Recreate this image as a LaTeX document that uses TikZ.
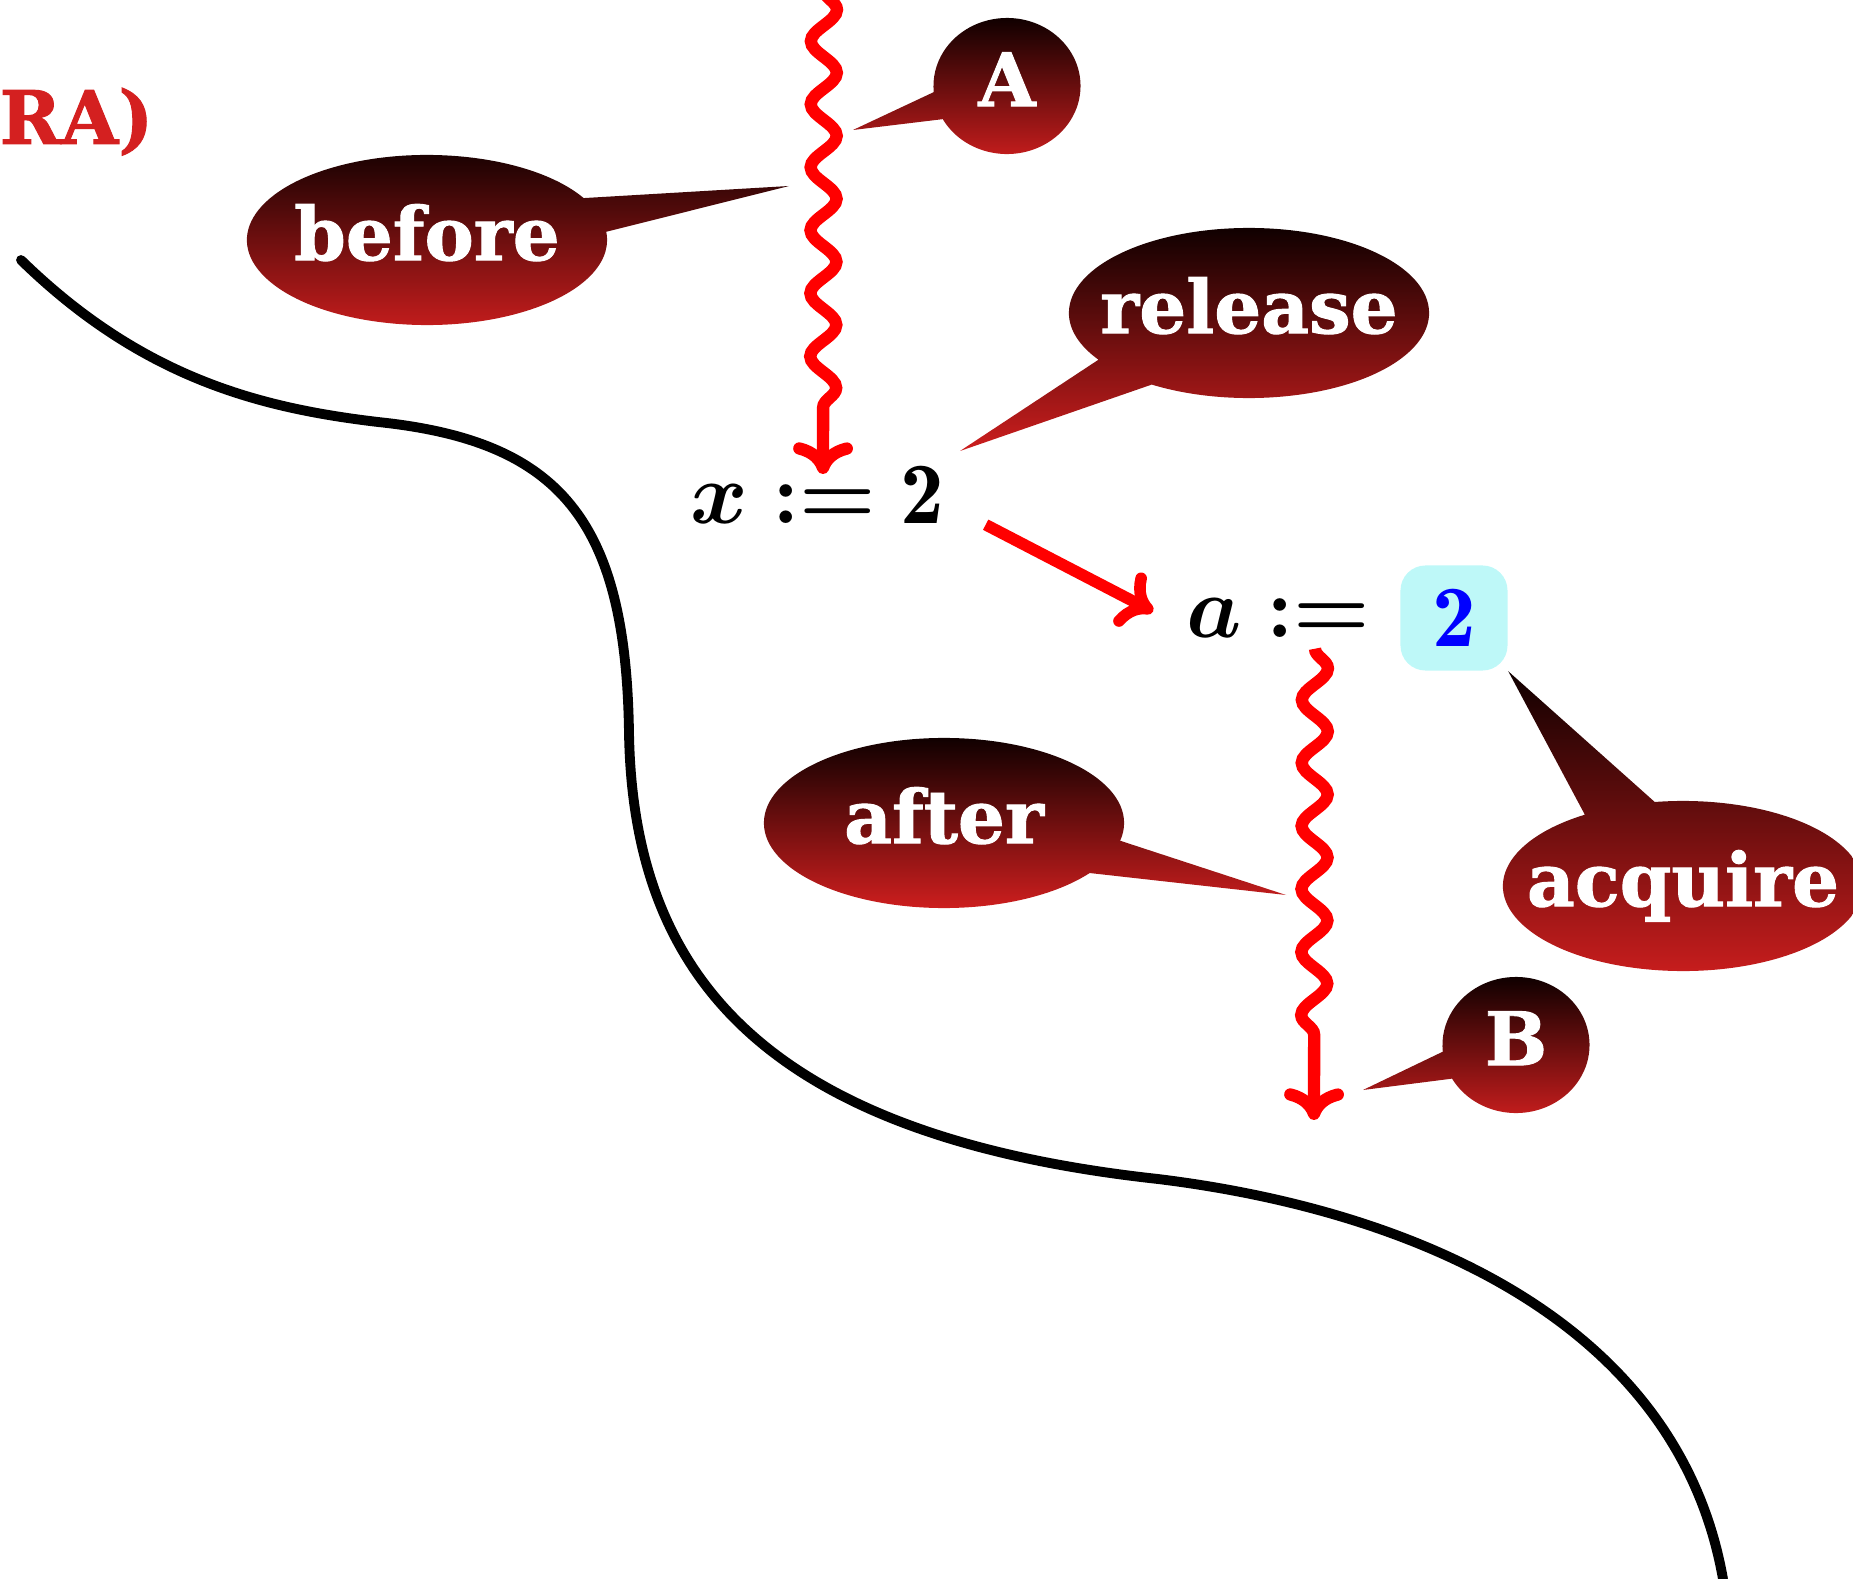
\documentclass[tikz,border=0pt]{standalone}
\usepackage{amsmath}
\usepackage{fontspec}
\newfontfamily\bubblefont{DejaVu Serif}[BoldFeatures={FakeBold=1.3}]
\usetikzlibrary{shapes.callouts,decorations.pathmorphing,arrows.meta,positioning}
\definecolor{bubbletop}{RGB}{16,0,0}
\definecolor{bubblebot}{RGB}{205,30,30}
\definecolor{titlered}{RGB}{212,32,32}
\definecolor{valcyan}{RGB}{190,248,248}
\newcommand{\bubtext}[1]{\makebox[0pt]{#1}}
\tikzset{
    bubble/.style={ellipse callout, callout pointer arc=24, top color=bubbletop, bottom color=bubblebot,
        text=white, font=\bubblefont\bfseries\fontsize{21}{25}\selectfont,
        minimum width=3.6cm, minimum height=1.7cm, inner sep=0pt, text height=1.15em, text depth=0pt},
    smallbubble/.style={bubble, minimum width=1.47cm, minimum height=1.36cm},
    wiggle/.style={draw=red, line width=3.5pt, decorate,
        decoration={snake, amplitude=1.3mm, segment length=6.3mm, post length=5.5mm}},
    flow/.style={draw=red, line width=3.3pt},
    redtip/.style={-{To[length=9pt,width=17pt,round]}},
    brush/.style={line width=2.8pt, line cap=round},
    stmt/.style={inner sep=0pt},
    valbox/.style={fill=valcyan, rounded corners=2.5mm, minimum width=1.07cm, minimum height=1.05cm,
        text=blue}
}

\begin{document}
\begin{tikzpicture}[x=0.01cm, y=-0.01cm]
        \useasboundingbox (0,0) rectangle (1853,1579);
        % The brush line.
            \draw[brush] (21,260) .. controls (142,378) and (260,408) .. (378,422)
                .. controls (560,441) and (626,520) .. (629,733)
                .. controls (633,969) and (756,1135) .. (1158,1179)
                .. controls (1418,1211) and (1678,1324) .. (1723,1579);
        % Statements.
            \node[stmt, anchor=base] (xa) at (817,524) {\Huge$\boldsymbol{x} \mathrel{\boldsymbol{:}}\boldsymbol{=} \mathbf{2}$};
            \node[stmt, anchor=base east] (an) at (1371,638) {\Huge$\boldsymbol{a} \mathrel{\boldsymbol{:}}\boldsymbol{=}$};
            \node[valbox] (val) at (1454,618) {\Huge$\mathbf{2}$};
        % Title.
            \node[stmt, anchor=base east, text=titlered, font=\bubblefont\bfseries\fontsize{21}{25}\selectfont] (title) at (154,144) {RA)};
        % Free ends.
            \coordinate (atop) at (824,-10);
            \coordinate (bbot) at (1314,1120);
            \coordinate (ptbefore) at (789,186);
            \coordinate (ptA) at (853,130);
            \coordinate (ptrelease) at (960,451);
            \coordinate (ptafter) at (1286,895);
            \coordinate (ptB) at (1363,1090);
        % Red arrows.
            \draw[wiggle, redtip] (atop) -- ([xshift=0.06cm, yshift=-0.08cm]xa.north);
            \draw[flow, redtip] ([xshift=0.41cm]xa.south east) -- ([xshift=-0.33cm, yshift=0.07cm]an.west);
            \draw[wiggle, redtip] ([xshift=-0.56cm, yshift=-0.1cm]an.south east) -- (bbot);
        % Below nodes are the bubbles.
            \node[bubble, callout absolute pointer={(ptbefore)}] (before) at (427,240) {\bubtext{before}};
            \node[smallbubble, callout absolute pointer={(ptA)}] (A) at (1007,86) {\bubtext{A}};
            \node[bubble, callout absolute pointer={(ptrelease)}] (release) at (1249,313) {\bubtext{release}};
            \node[bubble, callout absolute pointer={(ptafter)}] (after) at (944,823) {\bubtext{after}};
            \node[bubble, callout absolute pointer={(val.south east)}] (acquire) at (1683,886) {\bubtext{acquire}};
            \node[smallbubble, callout absolute pointer={(ptB)}] (B) at (1516,1045) {\bubtext{B}};
    \end{tikzpicture}
\end{document}
